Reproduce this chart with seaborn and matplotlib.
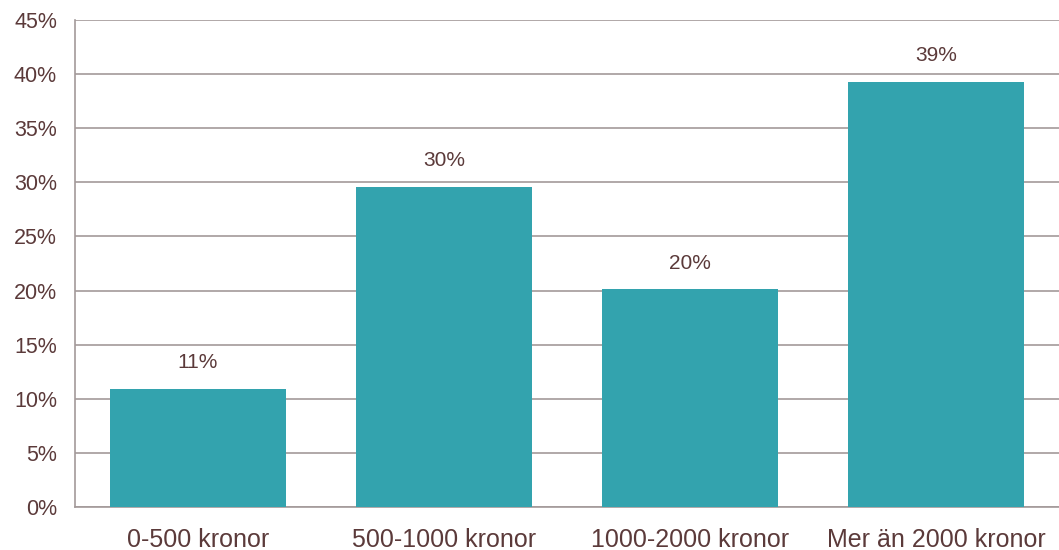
import matplotlib
matplotlib.use("Agg")
import matplotlib.pyplot as plt
import seaborn as sns
import pandas as pd
from matplotlib.ticker import FixedLocator

categories = ["0-500 kronor", "500-1000 kronor", "1000-2000 kronor", "Mer än 2000 kronor"]
values = [10.9, 29.6, 20.1, 39.3]
labels = ["11%", "30%", "20%", "39%"]
yticks = [0, 5, 10, 15, 20, 25, 30, 35, 40, 45]

sns.set_style("white")
plt.rcParams['font.family'] = ['Liberation Sans', 'DejaVu Sans']

text_color = "#5B3A3A"
grid_color = "#A39A9A"
bar_color = "#33A3AE"

df = pd.DataFrame({"cat": categories, "val": values})

fig = plt.figure(figsize=(10.59, 5.5), dpi=100)
ax = fig.add_axes([75/1059, 1-507/550, 1-75/1059, (507-20)/550])

sns.barplot(data=df, x="cat", y="val", color=bar_color, saturation=1, width=0.715,
            linewidth=0, ax=ax, zorder=3)

ax.set_ylim(0, 45)
ax.set_xlim(-0.5, 3.5)
ax.set_yticks(yticks)
ax.set_yticklabels([f"{t}%" for t in yticks])
ax.yaxis.grid(True, color=grid_color, linewidth=1.2, zorder=0)
ax.set_axisbelow(True)
ax.set_xlabel("")
ax.set_ylabel("")

for s in ["top", "right"]:
    ax.spines[s].set_visible(False)
for s in ["left", "bottom"]:
    ax.spines[s].set_color(grid_color)
    ax.spines[s].set_linewidth(1.2)

ax.tick_params(axis="y", colors=grid_color, length=5, width=1.2, direction="out",
               labelcolor=text_color, labelsize=15.5, pad=8)
ax.tick_params(axis="x", which="major", length=0, labelcolor=text_color, labelsize=18, pad=15)
ax.xaxis.set_minor_locator(FixedLocator([-0.5, 0.5, 1.5, 2.5, 3.5]))
ax.tick_params(axis="x", which="minor", length=6, width=1.2, color=grid_color, direction="out")

for i, (v, lab) in enumerate(zip(values, labels)):
    ax.annotate(lab, (i, v), xytext=(0, 12), textcoords="offset points",
                ha="center", va="bottom", fontsize=15, color=text_color)

fig.savefig("out.png", dpi=100)
